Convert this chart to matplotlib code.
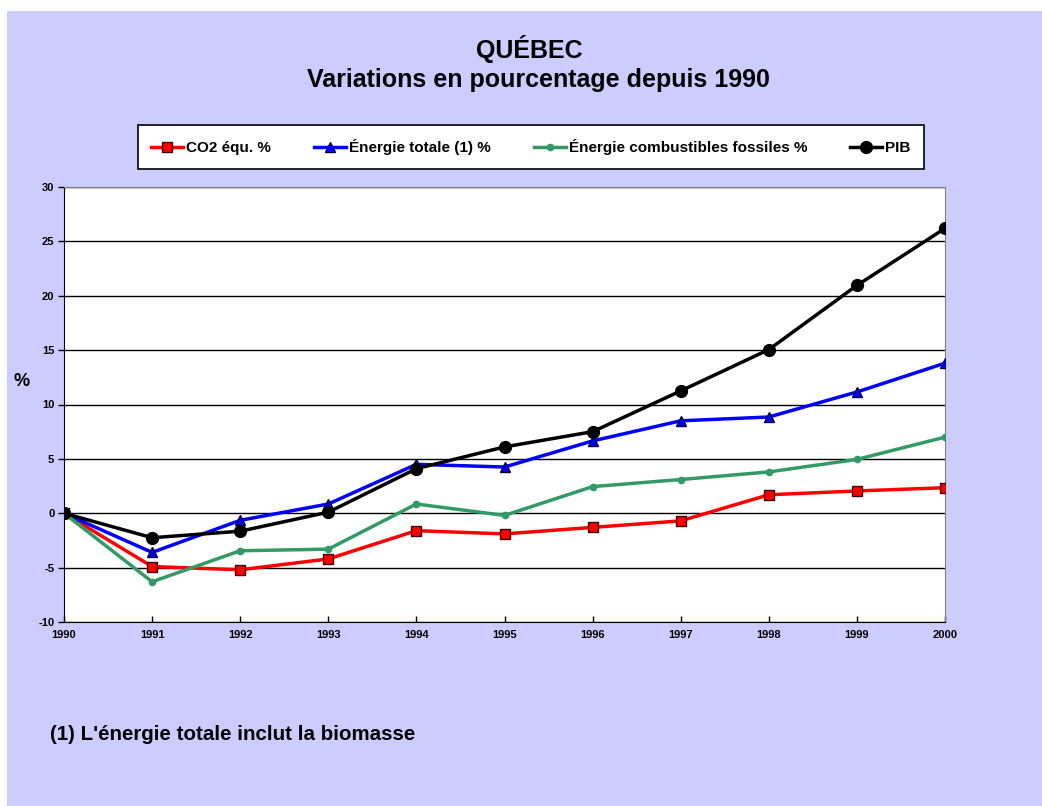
import matplotlib.pyplot as plt

plt.rcParams['font.family'] = ['Liberation Sans', 'DejaVu Sans']

years = [1990, 1991, 1992, 1993, 1994, 1995, 1996, 1997, 1998, 1999, 2000]
co2 = [0, -4.9, -5.2, -4.2, -1.6, -1.9, -1.3, -0.7, 1.7, 2.05, 2.35]
energie_tot = [0, -3.6, -0.65, 0.85, 4.5, 4.25, 6.65, 8.5, 8.85, 11.15, 13.8]
energie_foss = [0, -6.3, -3.45, -3.3, 0.85, -0.2, 2.45, 3.1, 3.8, 4.95, 7.0]
pib = [0, -2.25, -1.65, 0.1, 4.1, 6.1, 7.5, 11.25, 15.05, 20.95, 26.2]
yticks = [-10, -5, 0, 5, 10, 15, 20, 25, 30]

W, H = 1042, 806
fig = plt.figure(figsize=(W / 100, H / 100), dpi=100)
fig.patch.set_facecolor('white')
lav = '#CCCCFF'
fig.patches.append(plt.Rectangle((7 / W, 0.5 / H), 1 - 7 / W, 1 - 11.5 / H,
                                 transform=fig.transFigure, facecolor=lav,
                                 edgecolor='none', zorder=-10))

ax = fig.add_axes([64 / W, 1 - 622 / H, (945 - 64) / W, (622 - 187) / H])
ax.set_facecolor('white')

ax.plot(years, co2, color='#FF0000', lw=2.5, marker='s', ms=6.5,
        mfc='#FF0000', mec='#400000', mew=1, label='CO2 équ. %', zorder=3)
ax.plot(years, energie_tot, color='#0000FF', lw=2.5, marker='^', ms=7.5,
        mfc='#0000FF', mec='#000040', mew=1, label='Énergie totale (1) %', zorder=3)
ax.plot(years, energie_foss, color='#339966', lw=2.5, marker='o', ms=4.5,
        mfc='#339966', mec='#339966', label='Énergie combustibles fossiles %', zorder=3)
ax.plot(years, pib, color='black', lw=2.5, marker='o', ms=8.5,
        mfc='black', mec='black', label='PIB', zorder=4)

ax.set_xlim(1990, 2000)
ax.set_ylim(-10, 30)
ax.set_yticks(yticks)
ax.set_xticks(years)
ax.set_yticklabels([str(t) for t in yticks], fontsize=8, fontweight='bold')
ax.set_xticklabels([str(y) for y in years], fontsize=8, fontweight='bold')
ax.tick_params(axis='y', direction='out', length=4, width=1, pad=3)
ax.tick_params(axis='x', direction='in', length=4, width=1, pad=6)
ax.grid(axis='y', color='black', lw=1)
ax.set_axisbelow(True)
for s in ['top', 'right']:
    ax.spines[s].set_color('#808080')
ax.spines['left'].set_color('black')
ax.spines['bottom'].set_color('black')

fig.text(22 / W, 1 - 381 / H, '%', fontsize=13, fontweight='bold',
         ha='center', va='center')

fig.text(529 / W, 1 - 49 / H, 'QUÉBEC', fontsize=18,
         fontweight='bold', ha='center', va='center')
fig.text(538 / W, 1 - 80 / H, 'Variations en pourcentage depuis 1990',
         fontsize=18, fontweight='bold', ha='center', va='center')

leg = fig.legend(loc='center', bbox_to_anchor=(531 / W, 1 - 147 / H), ncol=4,
                 frameon=True, fancybox=False, edgecolor='black', framealpha=1,
                 prop={'size': 11, 'weight': 'bold'}, handlelength=2.1,
                 columnspacing=2.8, borderpad=0.9, handletextpad=0.2)
leg.get_frame().set_linewidth(1.2)

fig.text(50 / W, 1 - 735 / H, "(1) L'énergie totale inclut la biomasse",
         fontsize=14.8, fontweight='bold', ha='left', va='center')

fig.savefig('out.png', dpi=100, facecolor=fig.get_facecolor())
